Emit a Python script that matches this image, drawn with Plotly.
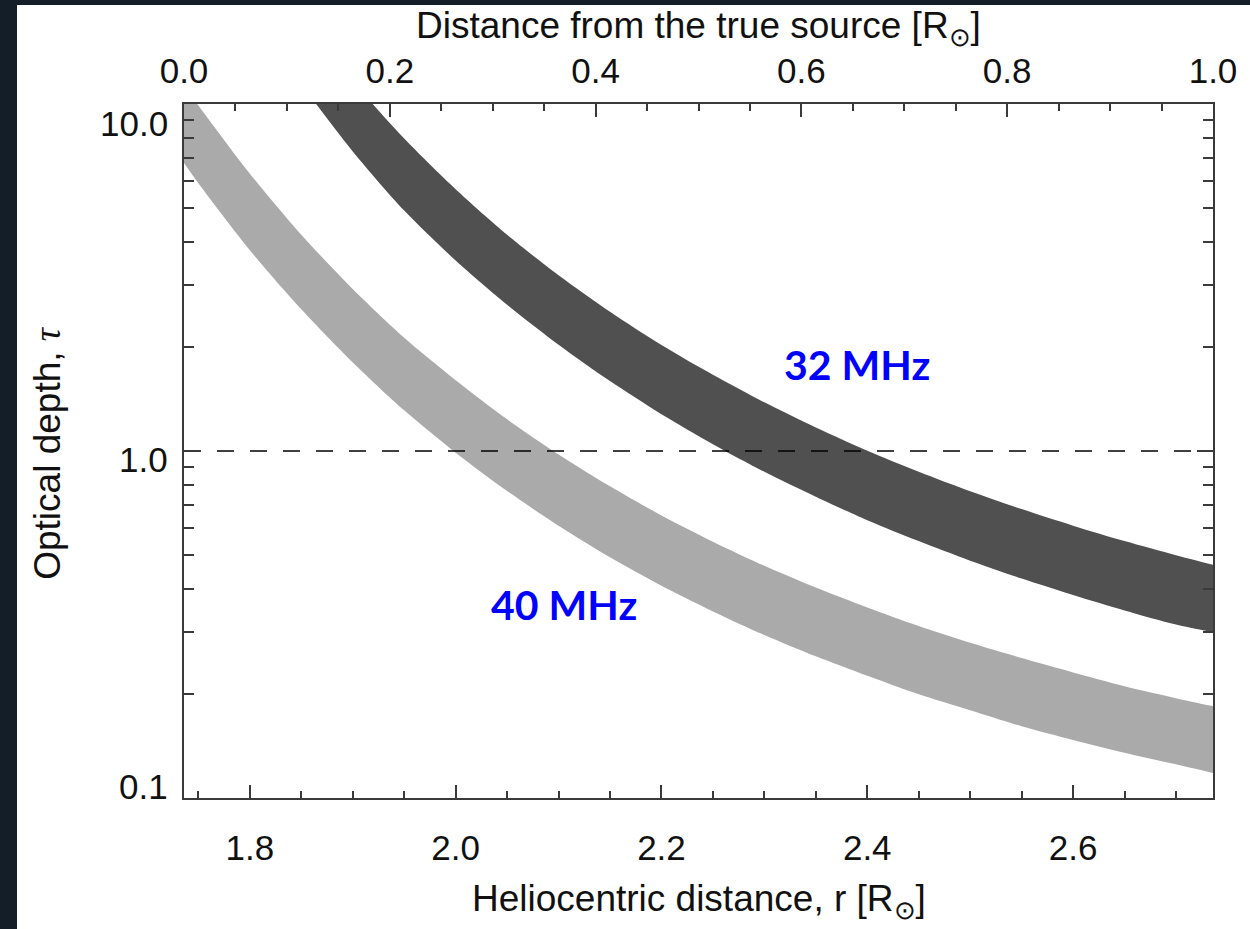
import math
import plotly.graph_objects as go

# ---- data ----
# 40 MHz band (light grey): heliocentric distance r [R_sun] and optical-depth band edges
r_40 = [1.736, 1.75, 1.80, 1.85, 1.90, 1.95, 2.00, 2.05, 2.10, 2.15, 2.20, 2.25,
        2.30, 2.35, 2.40, 2.45, 2.50, 2.55, 2.60, 2.65, 2.70, 2.736]
tau40_upper = [11.3, 9.9, 6.30, 4.20, 2.93, 2.12, 1.60, 1.234, 0.977, 0.791, 0.652, 0.548,
               0.467, 0.404, 0.354, 0.313, 0.280, 0.253, 0.230, 0.210, 0.194, 0.184]
tau40_lower = [6.76, 5.91, 3.79, 2.56, 1.80, 1.31, 0.989, 0.767, 0.609, 0.494, 0.409, 0.345,
               0.295, 0.256, 0.225, 0.199, 0.179, 0.161, 0.147, 0.135, 0.125, 0.118]

# 32 MHz band (dark grey)
r_32 = [1.85, 1.90, 1.95, 2.00, 2.05, 2.10, 2.15, 2.20, 2.25, 2.30, 2.35, 2.40,
        2.45, 2.50, 2.55, 2.60, 2.65, 2.70, 2.736]
tau32_upper = [17.0, 11.6, 7.95, 5.68, 4.20, 3.21, 2.52, 2.02, 1.658, 1.381, 1.169, 1.002,
               0.872, 0.766, 0.680, 0.609, 0.550, 0.501, 0.470]
tau32_lower = [11.4, 7.30, 4.93, 3.54, 2.64, 2.025, 1.590, 1.276, 1.046, 0.871, 0.738, 0.632,
               0.550, 0.483, 0.429, 0.3845, 0.347, 0.316, 0.300]

# tau = 1 reference line, drawn across the top (distance from true source) axis
dist_line = [0.0, 1.0]
tau_line = [1.0, 1.0]

r_range = [1.736, 2.736]
dist_range = [0.0, 1.0]
x_tickvals = [1.8, 2.0, 2.2, 2.4, 2.6]
top_tickvals = [0.0, 0.2, 0.4, 0.6, 0.8, 1.0]
y_tickvals = [0.1, 1.0, 10.0]
y_ticktext = ["0.1", "1.0", "10.0"]
y_minor = [0.2, 0.3, 0.4, 0.5, 0.6, 0.7, 0.8, 0.9, 2, 3, 4, 5, 6, 7, 8, 9]

labels = ["40 MHz", "32 MHz"]
label_r = [2.1055, 2.390]
label_tau_log = [-0.442, 0.25]

LIGHT = "#aaaaaa"
DARK = "#505050"
AX = "#3a3a3a"
FONT = "Liberation Sans, Arial, sans-serif"

fig = go.Figure()

for r, lo, up, col, name in [(r_40, tau40_lower, tau40_upper, LIGHT, "40 MHz"),
                             (r_32, tau32_lower, tau32_upper, DARK, "32 MHz")]:
    fig.add_trace(go.Scatter(x=r, y=lo, mode="lines", name=name,
                             line=dict(width=0, color=col, shape="spline", smoothing=0.8),
                             showlegend=False, hoverinfo="skip"))
    fig.add_trace(go.Scatter(x=r, y=up, mode="lines", name=name,
                             line=dict(width=0, color=col, shape="spline", smoothing=0.8),
                             fill="tonexty", fillcolor=col,
                             showlegend=False, hoverinfo="skip"))

fig.add_trace(go.Scatter(x=dist_line, y=tau_line, xaxis="x2", mode="lines",
                         line=dict(color="rgba(0,0,0,0.75)", width=2, dash="17px,16px"),
                         showlegend=False, hoverinfo="skip"))

tickfont = dict(family=FONT, size=35, color="#111111")

fig.update_layout(
    width=1250, height=929,
    margin=dict(l=184, r=37, t=104, b=131, autoexpand=False),
    paper_bgcolor="#131e29",
    plot_bgcolor="white",
    showlegend=False,
    xaxis=dict(
        range=r_range, showgrid=False, zeroline=False,
        showline=True, linecolor=AX, linewidth=2, mirror=False,
        ticks="inside", ticklen=13, tickwidth=1.5, tickcolor=AX,
        tickvals=x_tickvals, tickformat=".1f",
        tickfont=tickfont, ticklabelstandoff=18,
        minor=dict(ticks="inside", ticklen=7, tickwidth=1.5, tickcolor=AX,
                   dtick=0.05, tick0=1.75, showgrid=False),
    ),
    xaxis2=dict(
        range=dist_range, overlaying="x", side="top", anchor="y",
        showgrid=False, zeroline=False,
        showline=True, linecolor=AX, linewidth=2,
        ticks="inside", ticklen=13, tickwidth=1.5, tickcolor=AX,
        tickvals=top_tickvals, tickformat=".1f",
        tickfont=tickfont, ticklabelstandoff=5,
        minor=dict(ticks="inside", ticklen=7, tickwidth=1.5, tickcolor=AX,
                   dtick=0.05, tick0=0, showgrid=False),
    ),
    yaxis=dict(
        type="log", range=[-1, 1], showgrid=False, zeroline=False,
        showline=True, linecolor=AX, linewidth=2, mirror="ticks",
        ticks="inside", ticklen=16, tickwidth=1.5, tickcolor=AX,
        tickvals=y_tickvals, showticklabels=False,
        minor=dict(ticks="inside", ticklen=10, tickwidth=1.5, tickcolor=AX,
                   tickvals=y_minor, showgrid=False),
    ),
)

# white slide panel behind the chart
fig.add_shape(type="rect", xref="paper", yref="paper",
              x0=-0.1623, x1=1.06, y0=-0.25, y1=1.1427,
              fillcolor="white", line=dict(width=0), layer="below")

# y tick labels (placed like the original)
for v, t, sh in zip(y_tickvals, y_ticktext, [12, -8, -19]):
    fig.add_annotation(x=0, xref="paper", y=math.log10(v), yref="y",
                       text=t, showarrow=False, xanchor="right", yanchor="middle",
                       xshift=-14, yshift=sh, font=tickfont)

# axis titles
titlefont = dict(family=FONT, size=37, color="#111111")
fig.add_annotation(x=0.5, xref="paper", y=-0.149, yref="paper",
                   text="Heliocentric distance, r [R<sub>⊙</sub>]",
                   showarrow=False, xanchor="center", yanchor="middle", font=titlefont)
fig.add_annotation(x=0.5, xref="paper", y=1.11, yref="paper",
                   text="Distance from the true source [R<sub>⊙</sub>]",
                   showarrow=False, xanchor="center", yanchor="middle", font=titlefont)
fig.add_annotation(x=-0.1322, xref="paper", y=0.4974, yref="paper",
                   text="Optical depth, <span style='font-family:Liberation Serif, DejaVu Serif, serif;font-style:italic'>τ</span>",
                   textangle=-90, showarrow=False, xanchor="center", yanchor="middle",
                   font=titlefont)

# band labels
for t, x, y in zip(labels, label_r, label_tau_log):
    fig.add_annotation(x=x, y=y, xref="x", yref="y", text=f"<b>{t}</b>",
                       showarrow=False, xanchor="center", yanchor="middle",
                       font=dict(family="Lato, Open Sans, sans-serif", size=41, color="#0000ff"))

fig.write_html("out.html",
               config={"displayModeBar": False},
               post_script="document.body.style.margin='0';document.body.style.padding='0';")
